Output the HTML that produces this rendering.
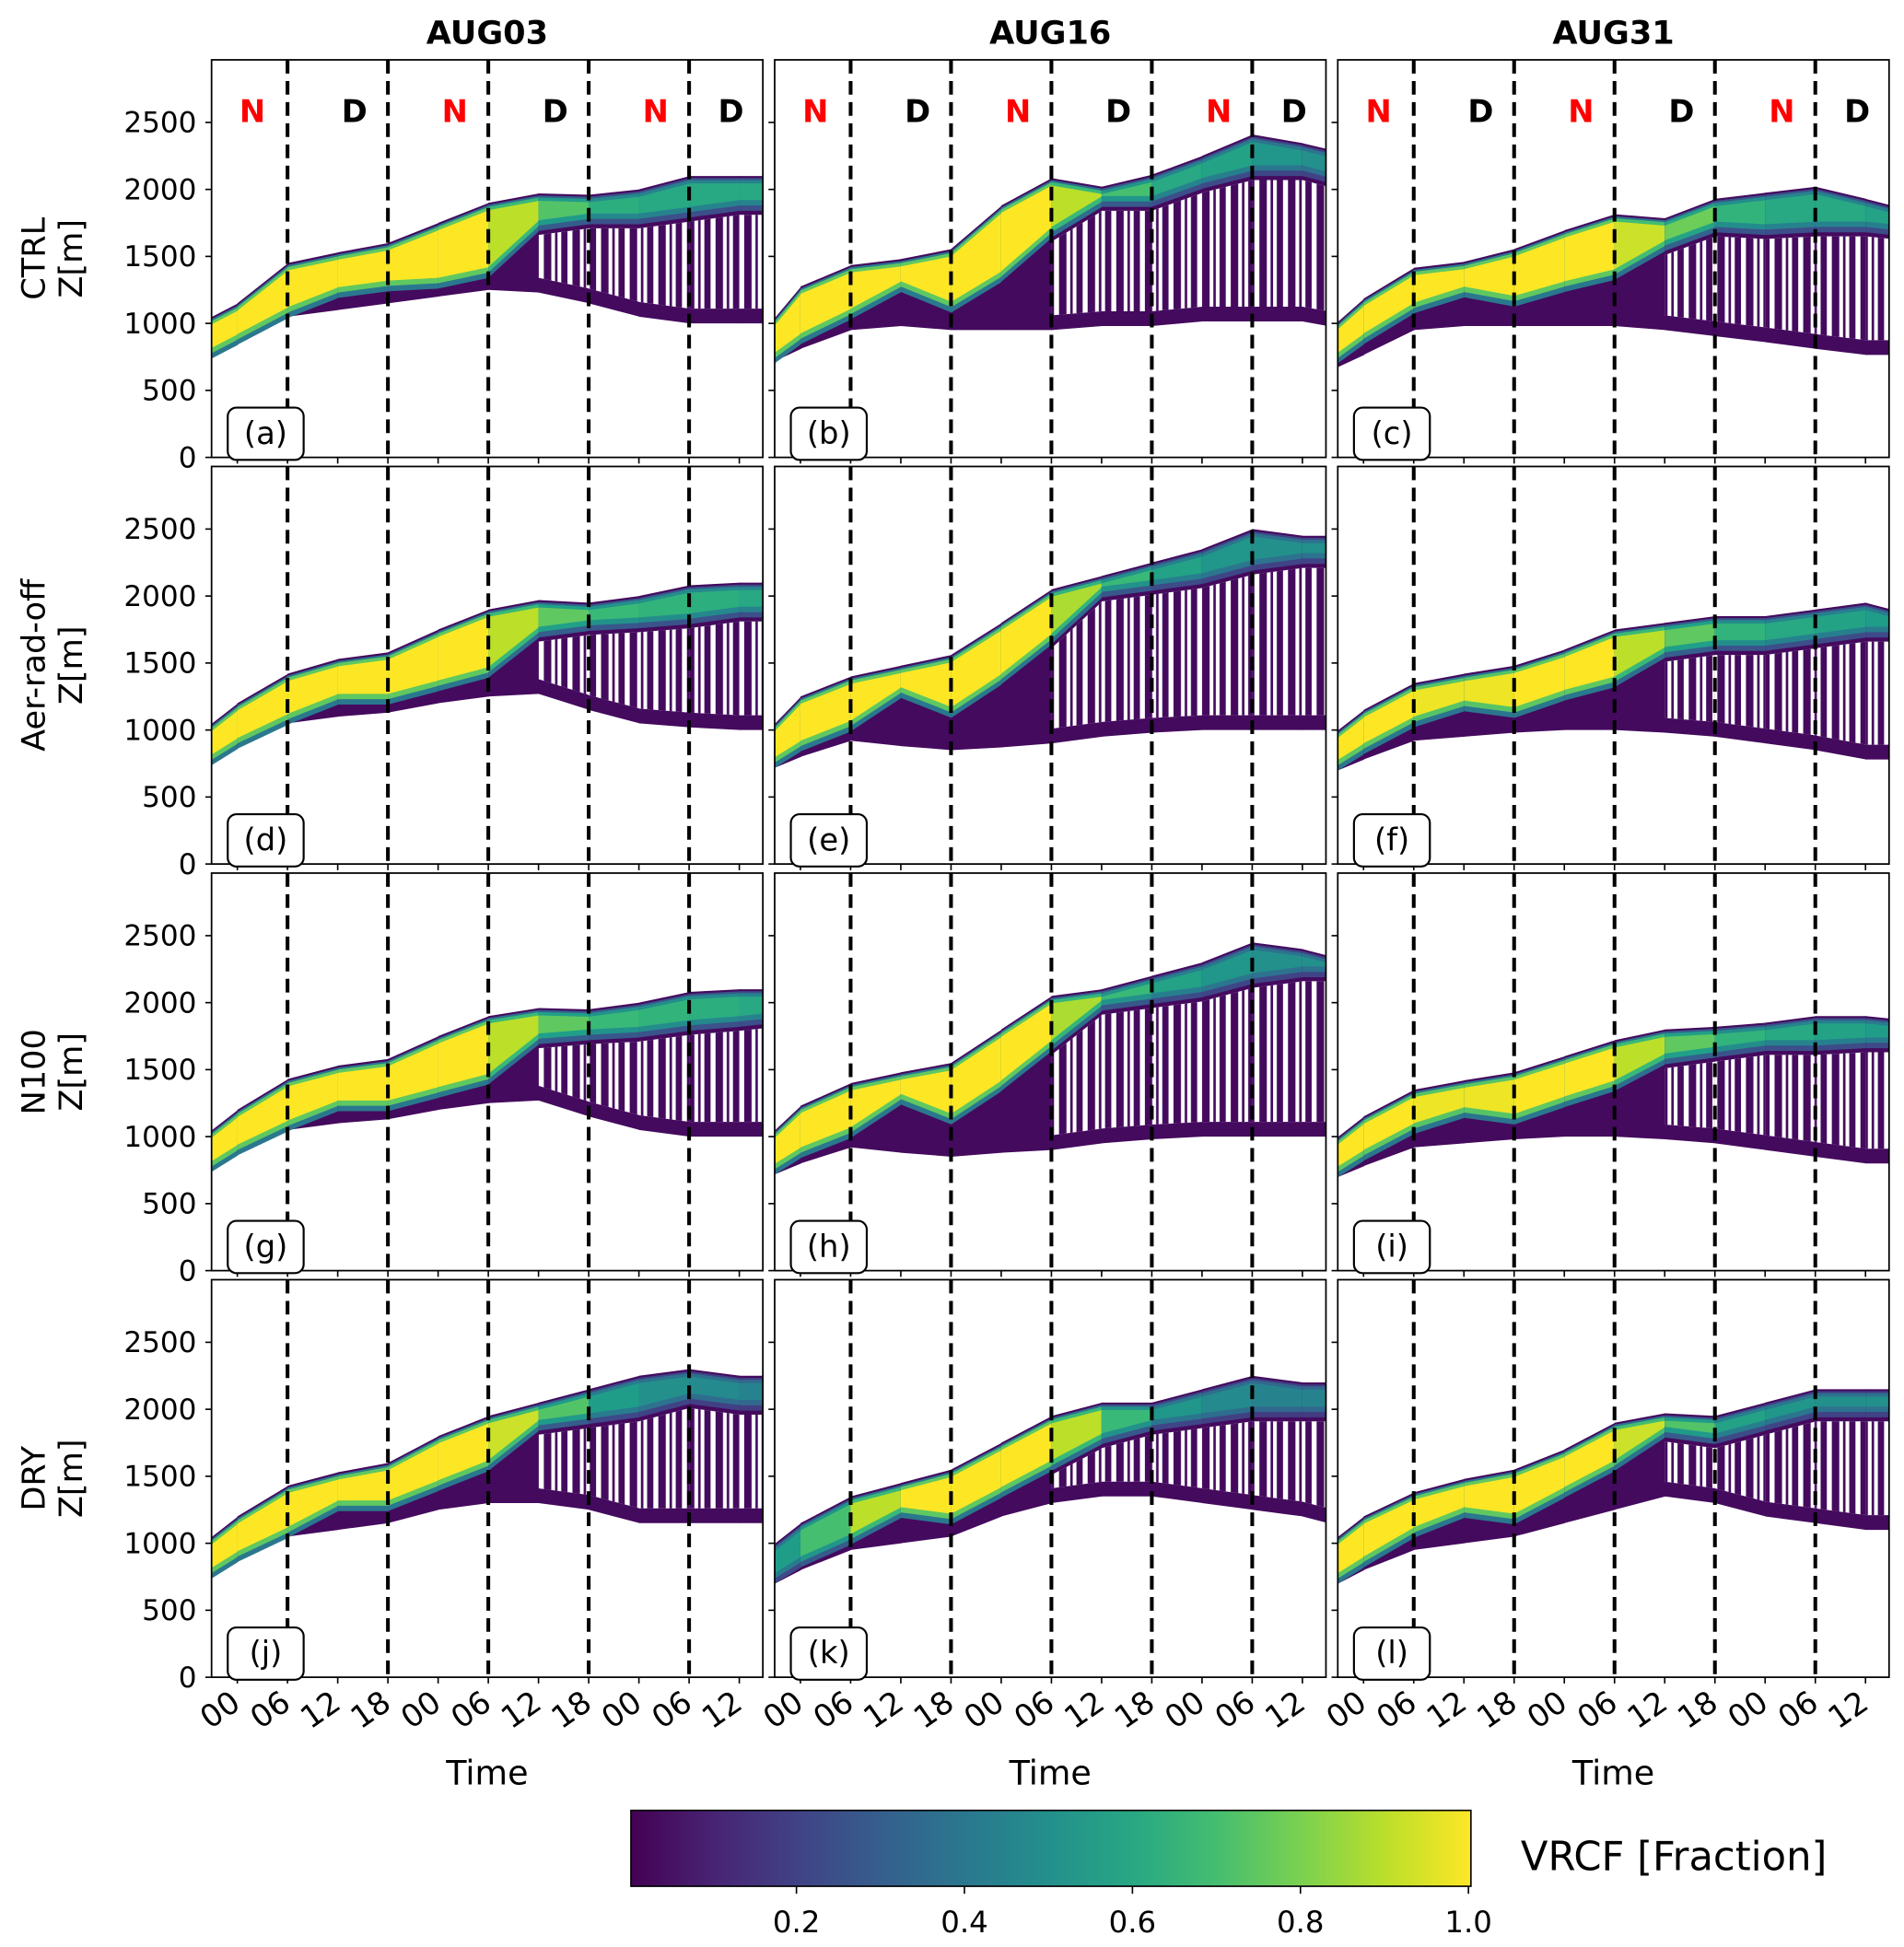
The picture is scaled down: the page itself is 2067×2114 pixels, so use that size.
<!DOCTYPE html>
<html><head><meta charset="utf-8">
<style>html,body{margin:0;padding:0;background:#fff}svg{display:block}text{font-family:"DejaVu Sans","Liberation Sans",sans-serif}</style>
</head><body>
<svg id="fig" xmlns="http://www.w3.org/2000/svg" width="2067" height="2114" viewBox="0 0 1530 1564.8">
<defs>
<pattern id="stripes" patternUnits="userSpaceOnUse" width="23" height="10">
<rect x="0" y="0" width="6" height="10" fill="#440a5e"/><rect x="9" y="0" width="2" height="10" fill="#440a5e"/><rect x="14" y="0" width="5" height="10" fill="#440a5e"/>
</pattern>
<linearGradient id="cbgrad" x1="0" x2="1" y1="0" y2="0"></linearGradient>
</defs>
<g id="plots"></g>
</svg>
<script>
const hours=[-3,0,6,12,18,24,30,36,42,48,54,60,63];
const dates=["AUG03","AUG16","AUG31"];
const experiments=["CTRL","Aer-rad-off","N100","DRY"];
const panelLetters=["a","b","c","d","e","f","g","h","i","j","k","l"];
const yTicks=[0,500,1000,1500,2000,2500];
const xTickHours=[0,6,12,18,24,30,36,42,48,54,60];
const xTickLabels=["00","06","12","18","00","06","12","18","00","06","12"];
const dayNightHours=[6,18,30,42,54];
const ndLabels=["N","D","N","D","N","D"];
const ndHours=[1.8,14,26,38,50,59];
const cbTicks=[0.2,0.4,0.6,0.8,1.0];
const topA=[1050,1150,1450,1530,1600,1750,1900,1970,1960,2000,2100,2100,2100];
const baseA=[750,850,1050,1100,1150,1200,1250,1230,1150,1050,1000,1000,1000];
const bandA=[800,900,1100,1250,1300,1320,1400,1750,1800,1800,1850,1900,1900];
const peakA=[1,1,1,1,1,1,1,0.8,0.65,0.6,0.6,0.6,0.6];
const topB=[1045,1275,1435,1480,1555,1880,2085,2020,2110,2250,2410,2345,2300];
const baseB=[720,810,950,980,950,950,950,980,980,1015,1015,1015,980];
const bandB=[765,905,1090,1295,1140,1370,1700,1930,1930,2065,2160,2160,2110];
const peakB=[1,1,1,1,1,1,1,0.8,0.6,0.6,0.55,0.5,0.5];
const topC=[1015,1185,1415,1460,1555,1695,1815,1785,1930,1975,2020,1930,1880];
const baseC=[675,765,950,980,980,980,980,950,905,860,810,765,765];
const bandC=[765,905,1135,1255,1185,1295,1385,1600,1740,1720,1740,1740,1720];
const peakC=[1,1,1,1,1,1,1,0.85,0.7,0.6,0.6,0.6,0.55];
const topD=[1050,1200,1420,1530,1580,1750,1900,1970,1950,2000,2080,2100,2100];
const baseD=[750,870,1050,1100,1130,1200,1250,1270,1150,1050,1020,1000,1000];
const bandD=[800,920,1100,1250,1250,1350,1450,1750,1800,1820,1850,1900,1900];
const peakD=[1,1,1,1,1,1,1,0.8,0.7,0.65,0.65,0.6,0.6];
const topE=[1050,1250,1400,1480,1560,1800,2050,2150,2250,2350,2500,2450,2450];
const baseE=[720,800,920,880,850,870,900,950,980,1000,1000,1000,1000];
const bandE=[780,900,1050,1300,1150,1400,1700,2050,2100,2150,2250,2300,2300];
const peakE=[1,1,1,1,1,1,1,0.75,0.6,0.55,0.5,0.5,0.5];
const topF=[1000,1150,1350,1420,1480,1600,1750,1800,1850,1850,1900,1950,1900];
const baseF=[700,780,920,950,980,1000,1000,980,950,900,850,780,780];
const bandF=[760,880,1080,1200,1150,1280,1380,1600,1650,1650,1700,1750,1750];
const peakF=[1,1,1,0.95,1,1,1,0.8,0.7,0.6,0.6,0.55,0.55];
const topG=[1050,1200,1430,1530,1580,1750,1900,1960,1950,2000,2080,2100,2100];
const baseG=[750,870,1050,1100,1130,1200,1250,1270,1150,1050,1000,1000,1000];
const bandG=[800,920,1100,1250,1250,1350,1450,1750,1780,1800,1850,1880,1900];
const peakG=[1,1,1,1,1,1,1,0.8,0.7,0.65,0.65,0.6,0.6];
const topH=[1050,1230,1400,1480,1550,1800,2050,2100,2200,2300,2450,2400,2350];
const baseH=[720,800,920,880,850,880,900,950,980,1000,1000,1000,1000];
const bandH=[780,900,1050,1300,1150,1400,1700,2000,2050,2100,2200,2250,2250];
const peakH=[1,1,1,1,1,1,1,0.75,0.6,0.55,0.5,0.5,0.5];
const topI=[1000,1150,1350,1420,1480,1600,1720,1800,1820,1850,1900,1900,1880];
const baseI=[700,780,920,950,980,1000,1000,980,950,900,850,800,800];
const bandI=[760,880,1080,1200,1150,1280,1400,1600,1650,1700,1700,1720,1720];
const peakI=[1,1,1,0.95,1,1,1,0.8,0.7,0.6,0.6,0.55,0.55];
const topJ=[1050,1200,1430,1530,1600,1800,1950,2050,2150,2250,2300,2250,2250];
const baseJ=[750,870,1050,1100,1150,1250,1300,1300,1250,1150,1150,1150,1150];
const bandJ=[800,920,1100,1300,1300,1450,1600,1900,1950,2000,2100,2050,2050];
const peakJ=[1,1,1,1,1,1,1,0.85,0.6,0.5,0.5,0.45,0.45];
const topK=[1000,1150,1350,1450,1550,1750,1950,2050,2050,2150,2250,2200,2200];
const baseK=[700,800,950,1000,1050,1200,1300,1350,1350,1300,1250,1200,1150];
const bandK=[760,880,1050,1250,1200,1400,1600,1800,1900,1950,2000,2000,2000];
const peakK=[0.5,0.6,0.8,1,1,1,1,0.8,0.55,0.5,0.45,0.45,0.45];
const topL=[1050,1200,1380,1480,1550,1700,1900,1970,1950,2050,2150,2150,2150];
const baseL=[700,800,950,1000,1050,1150,1250,1350,1300,1200,1150,1100,1100];
const bandL=[760,880,1100,1250,1200,1400,1600,1850,1800,1900,2000,2000,2000];
const peakL=[1,1,1,1,1,1,1,0.85,0.6,0.55,0.5,0.5,0.5];
const holeStart=[36,30,36,36,30,36,36,30,36,36,30,36];

const panels=[[topA,baseA,bandA,peakA],[topB,baseB,bandB,peakB],[topC,baseC,bandC,peakC],
[topD,baseD,bandD,peakD],[topE,baseE,bandE,peakE],[topF,baseF,bandF,peakF],
[topG,baseG,bandG,peakG],[topH,baseH,bandH,peakH],[topI,baseI,bandI,peakI],
[topJ,baseJ,bandJ,peakJ],[topK,baseK,bandK,peakK],[topL,baseL,bandL,peakL]];

const VIR=[[68,1,84],[72,40,120],[62,74,137],[49,104,142],[38,130,142],[31,158,137],[53,183,121],[110,206,88],[181,222,43],[253,231,37]];
function viridis(v){v=Math.max(0,Math.min(1,v));const p=v*(VIR.length-1),i=Math.min(VIR.length-2,Math.floor(p)),f=p-i;
const c=VIR[i].map((a,k)=>Math.round(a+(VIR[i+1][k]-a)*f));return `rgb(${c[0]},${c[1]},${c[2]})`;}

const NS="http://www.w3.org/2000/svg";
const root=document.getElementById('plots');
function el(tag,attrs,parent){const e=document.createElementNS(NS,tag);for(const k in attrs)e.setAttribute(k,attrs[k]);(parent||root).appendChild(e);return e;}
const colLeft=[170,622.5,1075],W=443,H=319.5,YMAX=2967;
function rowTop(r){return 48.1+326.8*r;}

const grad=document.getElementById('cbgrad');
for(let i=0;i<=10;i++){const s=document.createElementNS(NS,'stop');s.setAttribute('offset',i/10);s.setAttribute('stop-color',viridis(i/10));grad.appendChild(s);}

for(let p=0;p<12;p++){
  const r=Math.floor(p/3),c=p%3;
  const L=colLeft[c],T=rowTop(r),B=T+H;
  const xs=h=>L+20.7+h*6.723;
  const ys=m=>B-m*H/YMAX;
  const [top,base,band,peak]=panels[p];
  const g=el('g',{});
  
  
  const cp=el('clipPath',{id:'cp'+p},g);el('rect',{x:L,y:T,width:W,height:H},cp);
  const field=el('g',{'clip-path':`url(#cp${p})`},g);
  
  
  for(let i=0;i<hours.length-1;i++){
    const x0=xs(hours[i]),x1=xs(hours[i+1])+0.6;
    const quad=(a0,a1,b0,b1)=>`${x0},${ys(a0)} ${x1},${ys(a1)} ${x1},${ys(b1)} ${x0},${ys(b0)}`;
    el('polygon',{points:quad(base[i],base[i+1],top[i],top[i+1]),fill:'#440a5e'},field);
    if(hours[i]>=holeStart[p]){
      const lo0=base[i]+110,lo1=base[i+1]+110,hi0=band[i]-90,hi1=band[i+1]-90;
      if(hi0>lo0+40&&hi1>lo1+40){
        el('polygon',{points:quad(lo0,lo1,hi0,hi1),fill:'#ffffff'},field);
        el('polygon',{points:quad(lo0,lo1,hi0,hi1),fill:'url(#stripes)'},field);
      }
    }
    const pk=(peak[i]+peak[i+1])/2;
    el('polygon',{points:quad(band[i]-60,band[i+1]-60,top[i]-15,top[i+1]-15),fill:viridis(pk*0.4)},field);
    el('polygon',{points:quad(band[i]-20,band[i+1]-20,top[i]-30,top[i+1]-30),fill:viridis(pk*0.75)},field);
    el('polygon',{points:quad(band[i]+20,band[i+1]+20,top[i]-55,top[i+1]-55),fill:viridis(pk)},field);
  }
  dayNightHours.forEach(h=>{
    const d=el('line',{x1:xs(h),x2:xs(h),y1:T,y2:B,stroke:'#000','stroke-width':3,'stroke-dasharray':'11,6'},g);
    
    
  });
  el('rect',{x:L,y:T,width:W,height:H,fill:'none',stroke:'#000','stroke-width':1.3},g);
  yTicks.forEach(v=>{
    el('line',{x1:L-5,x2:L,y1:ys(v),y2:ys(v),stroke:'#000','stroke-width':1.2},g);
    if(c===0){const t=el('text',{x:L-12,y:ys(v)+8,'font-size':23,'text-anchor':'end'},g);t.textContent=v;
      }
  });
  xTickHours.forEach((h,k)=>{
    el('line',{x1:xs(h),x2:xs(h),y1:B,y2:B+5,stroke:'#000','stroke-width':1.2},g);
    if(r===3){const t=el('text',{x:xs(h)+4,y:B+24,'font-size':25,'text-anchor':'end',transform:`rotate(-35 ${xs(h)+4} ${B+24})`},g);t.textContent=xTickLabels[k];
      }
  });
  if(r===0){ndHours.forEach((h,k)=>{const t=el('text',{x:xs(h),y:T+50,'font-size':25,'font-weight':'bold','text-anchor':'middle',fill:ndLabels[k]==='N'?'#ff0000':'#000'},g);t.textContent=ndLabels[k];
    });}
  const lb=el('g',{},g);
  
  
  el('rect',{x:L+13,y:B-40,width:61,height:42,rx:7,fill:'#fff',stroke:'#000','stroke-width':1.6},lb);
  const lt=el('text',{x:L+43.5,y:B-11,'font-size':25,'text-anchor':'middle'},lb);lt.textContent='('+panelLetters[p]+')';
  if(r===0){const t=el('text',{x:L+W/2,y:35,'font-size':26,'font-weight':'bold','text-anchor':'middle'},g);t.textContent=dates[c];
    }
  if(r===3){const t=el('text',{x:L+W/2,y:1434,'font-size':27,'text-anchor':'middle'},g);t.textContent='Time';
    }
  if(c===0){const cy=T+H/2;
    const t1=el('text',{x:36,y:cy,'font-size':26,'text-anchor':'middle',transform:`rotate(-90 36 ${cy})`},g);t1.textContent=experiments[r];
    
    const t2=el('text',{x:66,y:cy,'font-size':26,'text-anchor':'middle',transform:`rotate(-90 66 ${cy})`},g);t2.textContent='Z[m]';
    }
}
const cb=el('g',{});


el('rect',{x:507,y:1455,width:675,height:61,fill:'url(#cbgrad)',stroke:'#000','stroke-width':1.2},cb);
cbTicks.forEach(v=>{const x=505+675*v;el('line',{x1:x,x2:x,y1:1516,y2:1522,stroke:'#000','stroke-width':1.2},cb);
  const t=el('text',{x:x,y:1553,'font-size':24,'text-anchor':'middle'},cb);t.textContent=v.toFixed(1);
  });
const cbt=el('text',{x:1222,y:1503,'font-size':32},cb);cbt.textContent='VRCF [Fraction]';


</script>
</body></html>
